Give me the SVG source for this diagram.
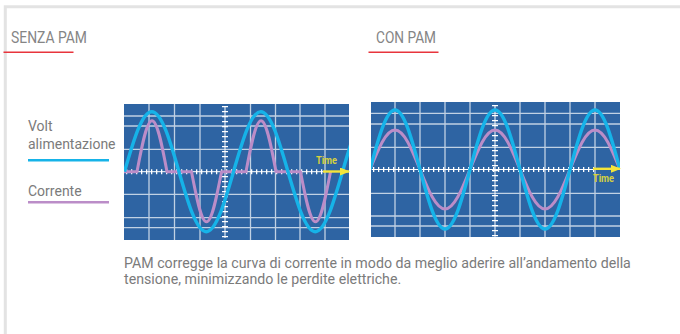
<svg xmlns="http://www.w3.org/2000/svg" width="680" height="334" viewBox="0 0 680 334">
<style>
.t{font-family:Roboto,"Liberation Sans",sans-serif;fill:#7b7b7b}
.title{font-size:16px;fill:#858585}
.lbl{font-size:14px}
.cap{font-size:14.2px}
.ul{stroke:#e8343c;stroke-width:1.6}
.bg{fill:#2e64a3}
.grid{stroke:#ffffff;stroke-opacity:0.7;stroke-width:1.3;fill:none}
.axis{stroke:#ffffff;stroke-width:1;fill:none}
.tickh{stroke:#ffffff;stroke-width:5;stroke-dasharray:1.3 3.7;fill:none}
.tickv{stroke:#ffffff;stroke-width:6;stroke-dasharray:1.3 3.7;fill:none}
.volt{stroke:#16b3e8;stroke-width:3.4;fill:none}
.cur{stroke:#bb8dc8;stroke-width:3;fill:none;stroke-linejoin:round}
.arr{stroke:#f4e53a;stroke-width:2.4;fill:none}
.time{font-family:Roboto,"Liberation Sans",sans-serif;font-size:10.5px;font-weight:bold;fill:#d9d23c}
</style>
<defs>
<marker id="ah" viewBox="0 0 10 8" refX="9" refY="4" markerWidth="10" markerHeight="8" markerUnits="userSpaceOnUse" orient="auto">
<path d="M0,0 L10,4 L0,8 z" fill="#f4e53a"/>
</marker>
<clipPath id="cl"><rect x="124" y="104" width="225" height="136"/></clipPath>
<clipPath id="cr"><rect x="371" y="102" width="249" height="135"/></clipPath>
</defs>

<g id="frame">
<path d="M5.3,334 V6.7 H680" fill="none" stroke="#e3e3e3" stroke-width="3"/>
</g>

<g id="title-senza">
<text class="t title" x="11" y="43.3" textLength="76" lengthAdjust="spacingAndGlyphs">SENZA PAM</text>
<line class="ul" x1="3.5" y1="52.3" x2="73.5" y2="52.3"/>
</g>

<g id="title-con">
<text class="t title" x="376" y="43.3" textLength="60" lengthAdjust="spacingAndGlyphs">CON PAM</text>
<line class="ul" x1="368.5" y1="52.3" x2="438.5" y2="52.3"/>
</g>

<g id="legend">
<text class="t lbl" x="28" y="130.7">Volt</text>
<text class="t lbl" x="28" y="149.3">alimentazione</text>
<line x1="28" y1="160.3" x2="109" y2="160.3" stroke="#16b3e8" stroke-width="2.6"/>
<text class="t lbl" x="28" y="196">Corrente</text>
<line x1="28" y1="202.3" x2="109" y2="202.3" stroke="#bb8dc8" stroke-width="2.6"/>
</g>

<g id="chart-senza">
<rect class="bg" x="124" y="104" width="225" height="136"/>
<path class="grid" d="M149,104V240M174.5,104V240M200,104V240M250.5,104V240M275.5,104V240M300,104V240M325,104V240M124,116H349M124,126H349M124,149.3H349M124,194.3H349M124,217.7H349M124,227.7H349"/>
<path class="axis" d="M124,171.7H323M225,106V238"/>
<path class="tickh" d="M126,171.7H323"/>
<path class="tickv" d="M225,106V238"/>
<g clip-path="url(#cl)">
<path class="cur" d="M124,171.7H137c4.892,-26.127 9.571,-51 15,-51c5.429,0 10.108,24.873 15,51H191.5c4.892,25.615 9.571,50 15,50c5.429,0 10.108,-24.385 15,-50H246c4.892,-26.127 9.571,-51 15,-51c5.429,0 10.108,24.873 15,51H300.5c4.892,25.615 9.571,50 15,50c5.429,0 10.108,-24.385 15,-50"/>
<path class="volt" d="M124.5,171.7c8.887,-30.737 17.388,-60 27.25,-60c9.862,0 18.363,29.263 27.25,60c8.887,30.737 17.388,60 27.25,60c9.862,0 18.363,-29.263 27.250,-60c8.887,-30.737 17.388,-60 27.25,-60c9.862,0 18.363,29.263 27.25,60c8.887,30.737 17.388,60 27.25,60c9.862,0 18.363,-29.263 27.25,-60c8.887,-30.737 17.388,-60 27.25,-60"/>
</g>
<line class="arr" x1="323" y1="171.5" x2="349" y2="171.5" marker-end="url(#ah)"/>
<text class="time" x="316" y="164" textLength="21" lengthAdjust="spacingAndGlyphs">Time</text>
</g>

<g id="chart-con">
<rect class="bg" x="371" y="102" width="249" height="135"/>
<path class="grid" d="M395,102V237M420,102V237M445,102V237M470,102V237M520,102V237M545,102V237M570,102V237M595,102V237M371,113.3H620M371,124H620M371,147.3H620M371,193.3H620M371,216H620M371,226H620"/>
<path class="axis" d="M371,169.5H595M495,105V236.7"/>
<path class="tickh" d="M373,169.5H594"/>
<path class="tickv" d="M495,105V236.7"/>
<g clip-path="url(#cr)">
<path class="cur" d="M370,169.5c8.153,-20.235 15.952,-39.5 25,-39.5c9.048,0 16.847,19.265 25,39.5c8.153,20.235 15.952,39.5 25,39.5c9.048,0 16.847,-19.265 25,-39.5c8.153,-20.235 15.952,-39.5 25,-39.5c9.048,0 16.847,19.265 25,39.5c8.153,20.235 15.952,39.5 25,39.5c9.048,0 16.847,-19.265 25,-39.5c8.153,-20.235 15.952,-39.5 25,-39.5c9.048,0 16.847,19.265 25,39.5"/>
<path class="volt" d="M370,169.5c8.153,-30.481 15.952,-59.5 25,-59.5c9.048,0 16.847,29.019 25,59.5c8.153,30.481 15.952,59.5 25,59.5c9.048,0 16.847,-29.019 25,-59.5c8.153,-30.481 15.952,-59.5 25,-59.5c9.048,0 16.847,29.019 25,59.5c8.153,30.481 15.952,59.5 25,59.5c9.048,0 16.847,-29.019 25,-59.5c8.153,-30.481 15.952,-59.5 25,-59.5c9.048,0 16.847,29.019 25,59.5"/>
</g>
<line class="arr" x1="593" y1="168.8" x2="620" y2="168.8" marker-end="url(#ah)"/>
<text class="time" x="593" y="181.7" textLength="21" lengthAdjust="spacingAndGlyphs">Time</text>
</g>

<g id="caption">
<text class="t cap" x="124" y="268.3">PAM corregge la curva di corrente in modo da meglio aderire all’andamento della</text>
<text class="t cap" x="124" y="284.3">tensione, minimizzando le perdite elettriche.</text>
</g>
</svg>
